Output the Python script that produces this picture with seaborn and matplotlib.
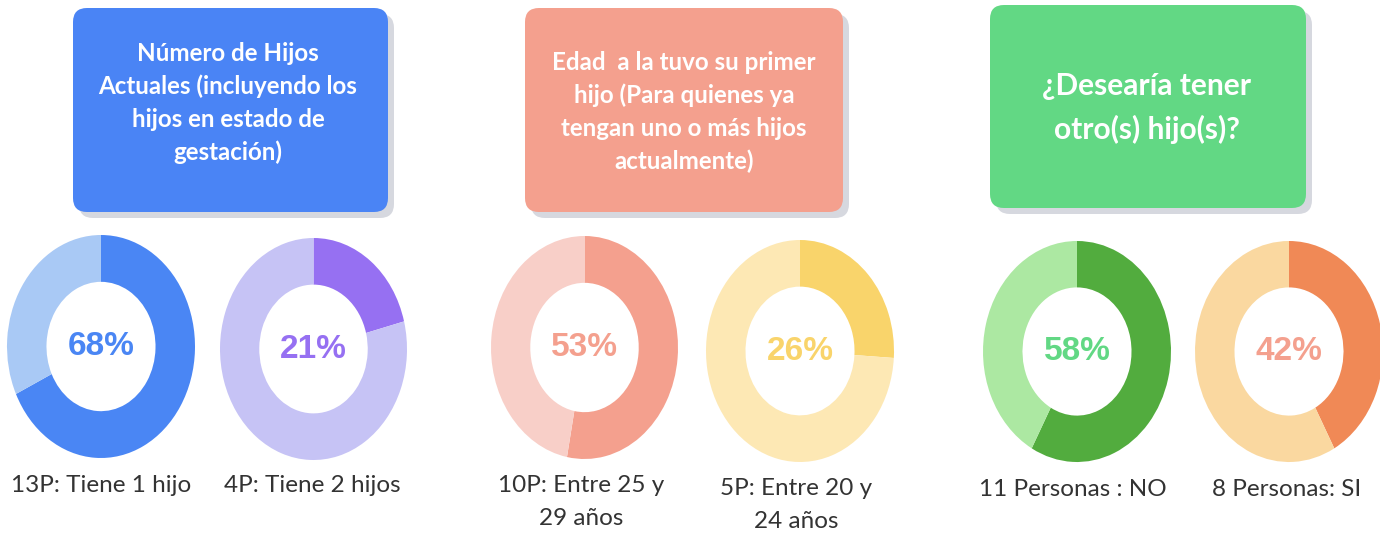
import matplotlib
matplotlib.use("Agg")
import matplotlib.pyplot as plt
from matplotlib.patches import FancyBboxPatch
from matplotlib import font_manager as fm
import seaborn as sns

sns.set_theme(style="white")
plt.rcParams['font.family'] = ['Lato', 'DejaVu Sans']

# ---------------- data ----------------
titles = [
    "Número de Hijos\nActuales (incluyendo los\nhijos en estado de\ngestación)",
    "Edad  a la tuvo su primer\nhijo (Para quienes ya\ntengan uno o más hijos\nactualmente)",
    "¿Desearía tener\notro(s) hijo(s)?",
]
percentages = [68, 21, 53, 26, 58, 42]
labels = [
    "13P: Tiene 1 hijo",
    "4P: Tiene 2 hijos",
    "10P: Entre 25 y\n29 años",
    "5P: Entre 20 y\n24 años",
    "11 Personas : NO",
    "8 Personas: SI",
]

# ---------------- styles ----------------
W, H = 1380, 533
box_colors = ["#4A84F5", "#F4A08E", "#62D884"]
box_rects = [(73, 8, 388, 212), (525, 8, 843, 212), (990, 5, 1306, 208)]
title_centers = [(228, 103), (684, 112), (1147, 108)]
title_sizes = [17.4, 17.4, 21.5]
title_line = [1.5, 1.5, 1.62]

dark_colors = ["#4A86F4", "#9670F2", "#F4A08E", "#F9D46B", "#52AC3E", "#F08956"]
light_colors = ["#A9C9F5", "#C6C3F5", "#F8CFC8", "#FDE8B4", "#ACE8A2", "#FAD8A0"]
text_colors = ["#4A86F4", "#9670F2", "#F4A08E", "#F9D46B", "#62D884", "#F4A08E"]
donut_rects = [(7, 235, 195, 458), (220, 238, 407, 460), (491, 236, 678, 459),
               (706, 240, 894, 462), (983, 241, 1171, 462), (1195, 241, 1383, 462)]
label_pos = [(101, 485), (312, 485), (581, 502), (796, 505), (1073, 490), (1287, 490)]

pct_props = fm.FontProperties(family=["Liberation Sans", "DejaVu Sans"],
                              weight="bold", size=24)

fig = plt.figure(figsize=(W / 100, H / 100), dpi=100)
fig.patch.set_facecolor("white")

bg = fig.add_axes([0, 0, 1, 1])
bg.set_xlim(0, W)
bg.set_ylim(H, 0)
bg.axis("off")

for (x0, y0, x1, y1), col, title, (tx, ty), fs, ls in zip(
        box_rects, box_colors, titles, title_centers, title_sizes, title_line):
    shadow = FancyBboxPatch((x0 + 6, y0 + 6), x1 - x0, y1 - y0,
                            boxstyle="round,pad=0,rounding_size=14",
                            fc="#D6D8DF", ec="none", zorder=1)
    bg.add_patch(shadow)
    box = FancyBboxPatch((x0, y0), x1 - x0, y1 - y0,
                         boxstyle="round,pad=0,rounding_size=14",
                         fc=col, ec="none", zorder=2)
    bg.add_patch(box)
    bg.text(tx, ty, title, ha="center", va="center", multialignment="center",
            color="white", fontsize=fs, fontweight="bold", linespacing=ls, zorder=3)

for lab, (lx, ly) in zip(labels, label_pos):
    bg.text(lx, ly, lab, ha="center", va="center", multialignment="center",
            color="#333333", fontsize=17.5, linespacing=1.72)

for p, dc, lc, tc, (x0, y0, x1, y1) in zip(percentages, dark_colors, light_colors,
                                            text_colors, donut_rects):
    ax = fig.add_axes([x0 / W, (H - y1) / H, (x1 - x0) / W, (y1 - y0) / H])
    ax.pie([p, 100 - p], colors=[dc, lc], startangle=90, counterclock=False,
           radius=1, wedgeprops=dict(width=0.42, edgecolor="none", linewidth=0))
    ax.set_aspect("auto")
    ax.set_xlim(-1, 1)
    ax.set_ylim(-1, 1)
    ax.axis("off")
    ax.text(0, 0, f"{p}%", ha="center", va="center", color=tc,
            fontproperties=pct_props)

fig.savefig("out.png", dpi=100, facecolor="white")
